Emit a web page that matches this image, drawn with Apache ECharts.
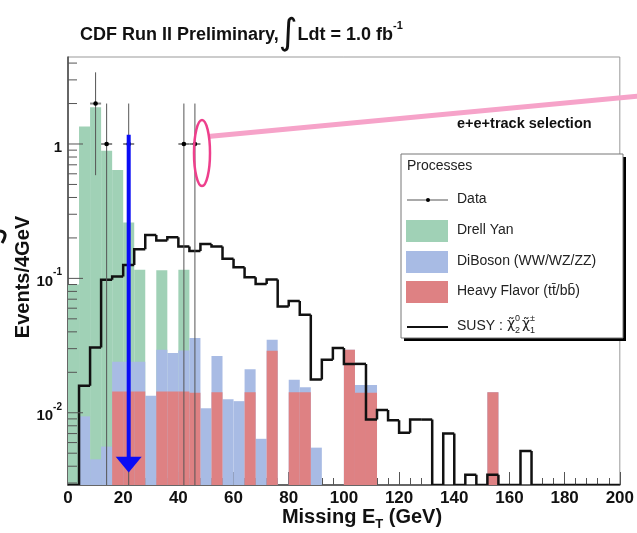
<!DOCTYPE html>
<html>
<head>
<meta charset="utf-8">
<script src="https://cdn.jsdelivr.net/npm/echarts@6/dist/echarts.min.js"></script>
<style>html,body{margin:0;padding:0;background:#fff}#c{width:637px;height:533px}</style>
</head>
<body>
<div id="c"></div>
<script>
// ---------- data ----------
// left edges of the 4 GeV bins of Missing E_T
const binLeftEdges = [0,4,8,12,16,20,24,28,32,36,40,44,48,52,56,60,64,68,72,76,80,84,88,92,96,
  100,104,108,112,116,120,124,128,132,136,140,144,148,152,156,160,164,168,172,176,180,184,188,192,196];
const binWidth = 4;
// stacked histogram: top of each layer (Drell Yan on top, DiBoson middle, Heavy Flavor bottom)
const drellYanStackTop = [0.09,1.35,1.88,0.89,0.64,0.26,0.116,0,0.115,0,0.116,0,0,0,0,0,0,0,0,0,0,0,0,0,0,
  0,0,0,0,0,0,0,0,0,0,0,0,0,0,0,0,0,0,0,0,0,0,0,0,0];
const diBosonStackTop = [0,0.0094,0.0045,0.0056,0.024,0.024,0.024,0.0134,0.0294,0.0278,0.029,0.036,0.0108,0.0265,0.0126,0.0122,0.0211,0.0064,0.0349,0,0.0176,0.0155,0.0055,0,0,
  0.0294,0.0161,0.0161,0,0,0,0,0,0,0,0,0,0,0.0142,0,0,0,0,0,0,0,0,0,0,0];
const heavyFlavor = [0,0,0,0,0.0144,0.0144,0.0144,0,0.0144,0.0144,0.0144,0.0141,0,0.0142,0,0,0.0142,0,0.0289,0,0.0142,0.0142,0,0,0,
  0.0294,0.0141,0.0141,0,0,0,0,0,0,0,0,0,0,0.0142,0,0,0,0,0,0,0,0,0,0,0];
const susySignal = [0,0.0159,0.0306,0.0977,0.1033,0.126,0.165,0.21,0.191,0.202,0.173,0.160,0.18,0.173,0.14,0.121,0.102,0.091,0.098,0.0618,0.068,0.0536,0.0177,0.0248,0.0303,
  0.0231,0.0231,0.0089,0.0105,0.0088,0.0071,0.0089,0.0089,0,0.0070,0,0.00345,0,0.00345,0,0,0.0052,0,0,0,0,0,0,0,0];
// observed data
const dataMet = [10,14,22,42,46];
const dataEvents = [2,1,1,1,1];
const dataErrLow = [1.414,1,1,1,1];
const dataErrHigh = [1.414,1,1,1,1];
// axes
const xTickValues = [0,20,40,60,80,100,120,140,160,180,200];
const yLabelValues = [0.01,0.1,1];
const yLabelTexts = ['{b|10}{s|-2}','{b|10}{s|-1}','{b|1}'];
const yMinorTickValues = [0.003,0.004,0.005,0.006,0.007,0.008,0.009,0.02,0.03,0.04,0.05,0.06,0.07,0.08,0.09,
  0.2,0.3,0.4,0.5,0.6,0.7,0.8,0.9,2,3,4];
// annotation arrow (GeV, events)
const arrowMet = [22];
const arrowTop = [1.17];
const arrowHeadBase = [0.0047];
const arrowTip = [0.0036];

// ---------- chart ----------
const yMin = 0.0029, yMax = 4.44;
const FONT = "'Liberation Sans', Arial, Helvetica, sans-serif";
const C_DY = '#a0d1b6', C_DB = '#a8bbe4', C_HF = '#de8183';

function histSeries(name, values, color) {
  return {
    type: 'custom', name: name, clip: true,
    data: values.map((v, i) => [binLeftEdges[i], v]),
    encode: { x: 0, y: 1 },
    renderItem: function (params, api) {
      const x0 = api.value(0), v = api.value(1);
      if (!(v > 0)) return null;
      const p0 = api.coord([x0, v]);
      const p1 = api.coord([x0 + binWidth, yMin]);
      return { type: 'rect', shape: { x: p0[0], y: p0[1], width: p1[0] - p0[0], height: p1[1] - p0[1] },
               style: { fill: color } };
    }
  };
}

const chart = echarts.init(document.getElementById('c'));
const option = {
  animation: false,
  backgroundColor: '#fff',
  grid: { left: 68, right: 16, top: 57, bottom: 48, show: true, borderColor: '#999', borderWidth: 1 },
  xAxis: {
    type: 'value', min: 0, max: 200, interval: 20,
    axisLine: { show: true, lineStyle: { color: '#444', width: 1.5 } },
    axisTick: { show: true, inside: true, length: 13, lineStyle: { color: '#555' } },
    minorTick: { show: true, splitNumber: 5, length: 7, lineStyle: { color: '#555' } },
    splitLine: { show: false },
    axisLabel: { margin: 5, color: '#111', fontSize: 17, fontWeight: 'bold', fontFamily: FONT,
      formatter: v => (xTickValues.indexOf(v) >= 0 ? String(v) : '') }
  },
  yAxis: {
    type: 'log', logBase: 10, min: yMin, max: yMax,
    axisLine: { show: true, lineStyle: { color: '#444', width: 1.5 } },
    axisTick: { show: false },
    splitLine: { show: false },
    axisLabel: {
      margin: 6, color: '#111', fontFamily: FONT,
      formatter: function (v) {
        for (let k = 0; k < yLabelValues.length; k++) {
          if (Math.abs(Math.log10(v) - Math.log10(yLabelValues[k])) < 1e-6) return yLabelTexts[k];
        }
        return '';
      },
      rich: {
        b: { fontSize: 15, fontWeight: 'bold', fontFamily: FONT, color: '#111', lineHeight: 22, verticalAlign: 'bottom' },
        s: { fontSize: 10, fontWeight: 'bold', fontFamily: FONT, color: '#111', verticalAlign: 'top', lineHeight: 10 }
      }
    }
  },
  series: [
    histSeries('Drell Yan', drellYanStackTop, C_DY),
    histSeries('DiBoson (WW/WZ/ZZ)', diBosonStackTop, C_DB),
    histSeries('Heavy Flavor', heavyFlavor, C_HF),
    { // y-axis ticks (log minor + major)
      type: 'custom', name: 'yticks', clip: false, silent: true, z: 5,
      data: yLabelValues.map(v => [0, v, 15]).concat(yMinorTickValues.map(v => [0, v, 9])),
      encode: { x: 0, y: 1 },
      renderItem: function (params, api) {
        const p = api.coord([0, api.value(1)]);
        return { type: 'line', shape: { x1: p[0], y1: p[1], x2: p[0] + api.value(2), y2: p[1] },
                 style: { stroke: '#555', lineWidth: 1 } };
      }
    },
    { // SUSY outline
      type: 'custom', name: 'SUSY', clip: true, z: 4,
      data: susySignal.map((v, i) => [binLeftEdges[i], v]),
      encode: { x: 0, y: 1 },
      renderItem: function (params, api) {
        const i = params.dataIndex;
        const x0 = binLeftEdges[i], x1 = x0 + binWidth;
        const v = susySignal[i] > 0 ? susySignal[i] : yMin;
        const pv = i > 0 ? (susySignal[i - 1] > 0 ? susySignal[i - 1] : yMin) : yMin;
        const pts = [api.coord([x0, pv]), api.coord([x0, v]), api.coord([x1, v])];
        if (i === susySignal.length - 1) pts.push(api.coord([x1, yMin]));
        return { type: 'polyline', shape: { points: pts },
                 style: { stroke: '#111', lineWidth: 2.5, fill: null, lineJoin: 'miter' } };
      }
    },
    { // observed data with error bars
      type: 'custom', name: 'Data', clip: true, z: 6,
      data: dataMet.map((x, i) => [x, dataEvents[i], dataErrLow[i], dataErrHigh[i]]),
      encode: { x: 0, y: 1 },
      renderItem: function (params, api) {
        const x = api.value(0), y = api.value(1), el = api.value(2), eh = api.value(3);
        const lo = Math.max(y - el, yMin);
        const p = api.coord([x, y]);
        const pt = api.coord([x, y + eh]);
        const pb = api.coord([x, lo]);
        const pl = api.coord([x - binWidth / 2, y]);
        const pr = api.coord([x + binWidth / 2, y]);
        return { type: 'group', children: [
          { type: 'line', shape: { x1: p[0], y1: pt[1], x2: p[0], y2: pb[1] }, style: { stroke: '#555', lineWidth: 1 } },
          { type: 'line', shape: { x1: pl[0], y1: p[1], x2: pr[0], y2: p[1] }, style: { stroke: '#888', lineWidth: 2 } },
          { type: 'circle', shape: { cx: p[0], cy: p[1], r: 2.3 }, style: { fill: '#000' } }
        ] };
      }
    },
    { // blue annotation arrow
      type: 'custom', name: 'arrow', clip: false, z: 10, silent: true,
      data: arrowMet.map((x, i) => [x, arrowTop[i], arrowHeadBase[i], arrowTip[i]]),
      encode: { x: 0, y: 1 },
      renderItem: function (params, api) {
        const x = api.value(0);
        const pTop = api.coord([x, api.value(1)]);
        const pBase = api.coord([x, api.value(2)]);
        const pTip = api.coord([x, api.value(3)]);
        return { type: 'group', children: [
          { type: 'rect', shape: { x: pTop[0] - 2, y: pTop[1], width: 4, height: pBase[1] - pTop[1] + 1 }, style: { fill: '#0a0cf5' } },
          { type: 'polygon', shape: { points: [[pTop[0] - 13, pBase[1]], [pTop[0] + 13, pBase[1]], [pTop[0], pTip[1]]] }, style: { fill: '#0a0cf5' } }
        ] };
      }
    }
  ],
  graphic: [
    { type: 'text', left: 80, top: 17, z: 20,
      style: { text: '{a|CDF Run II Preliminary,}{i|∫}{a|Ldt = 1.0 fb}{s|-1}',
        rich: {
          a: { fontSize: 18, fontWeight: 'bold', fontFamily: FONT, fill: '#111', verticalAlign: 'middle', lineHeight: 30 },
          i: { fontSize: 36, fontFamily: "'DejaVu Sans', sans-serif", fill: '#111', verticalAlign: 'middle', lineHeight: 30, padding: [0, 0, 0, 0] },
          s: { fontSize: 11, fontWeight: 'bold', fontFamily: FONT, fill: '#111', verticalAlign: 'top', lineHeight: 11 }
        } } },
    { type: 'text', x: 362, y: 519, z: 20,
      style: { text: '{a|Missing E}{t|T}{a| (GeV)}', align: 'center', verticalAlign: 'middle',
        rich: {
          a: { fontSize: 20, fontWeight: 'bold', fontFamily: FONT, fill: '#111', lineHeight: 24, verticalAlign: 'top' },
          t: { fontSize: 13, fontWeight: 'bold', fontFamily: FONT, fill: '#111', lineHeight: 24, verticalAlign: 'bottom', padding: [9, 0, 0, 0] }
        } } },
    { type: 'text', x: 23, y: 277, rotation: Math.PI / 2, z: 20,
      style: { text: 'Events/4GeV', fontSize: 20, fontWeight: 'bold', fontFamily: FONT, fill: '#111', align: 'center', verticalAlign: 'middle' } },
    { type: 'text', left: 457, top: 116, z: 20,
      style: { text: 'e+e+track selection', fontSize: 14.5, fontWeight: 'bold', fontFamily: FONT, fill: '#111' } },
    // pink annotation
    { type: 'line', z: 21, shape: { x1: 208, y1: 136.5, x2: 640, y2: 96 }, style: { stroke: '#f6a3c9', lineWidth: 5 } },
    { type: 'ellipse', z: 22, shape: { cx: 202, cy: 153, rx: 8, ry: 33 }, style: { stroke: '#ee3f8c', lineWidth: 2.5, fill: null } },
    // left-edge hook
    { type: 'bezierCurve', z: 20, shape: { x1: 0, y1: 231, cpx1: 9, cpy1: 232, x2: 2, y2: 243 }, style: { stroke: '#111', lineWidth: 3, fill: null } },
    // legend box
    { type: 'rect', z: 30, shape: { x: 404, y: 157, width: 222, height: 184 }, style: { fill: '#000' } },
    { type: 'rect', z: 31, shape: { x: 401, y: 154, width: 222, height: 184 }, style: { fill: '#fff', stroke: '#777', lineWidth: 1 } },
    { type: 'text', z: 32, left: 407, top: 159, style: { text: 'Processes', fontSize: 14, fontFamily: FONT, fill: '#222' } },
    { type: 'line', z: 32, shape: { x1: 407, y1: 200, x2: 448, y2: 200 }, style: { stroke: '#555', lineWidth: 1 } },
    { type: 'circle', z: 33, shape: { cx: 428, cy: 200, r: 2 }, style: { fill: '#000' } },
    { type: 'text', z: 32, left: 457, top: 192, style: { text: 'Data', fontSize: 14, fontFamily: FONT, fill: '#222' } },
    { type: 'rect', z: 32, shape: { x: 406, y: 220, width: 42, height: 22 }, style: { fill: C_DY } },
    { type: 'text', z: 32, left: 457, top: 223, style: { text: 'Drell Yan', fontSize: 14, fontFamily: FONT, fill: '#222' } },
    { type: 'rect', z: 32, shape: { x: 406, y: 251, width: 42, height: 22 }, style: { fill: C_DB } },
    { type: 'text', z: 32, left: 457, top: 254, style: { text: 'DiBoson (WW/WZ/ZZ)', fontSize: 14, fontFamily: FONT, fill: '#222' } },
    { type: 'rect', z: 32, shape: { x: 406, y: 281, width: 42, height: 22 }, style: { fill: C_HF } },
    { type: 'text', z: 32, left: 457, top: 284, style: { text: 'Heavy Flavor (tt\u0304/bb\u0304)', fontSize: 14, fontFamily: FONT, fill: '#222' } },
    { type: 'line', z: 32, shape: { x1: 407, y1: 327, x2: 448, y2: 327 }, style: { stroke: '#111', lineWidth: 2 } },
    { type: 'text', z: 32, left: 457, top: 319, style: { text: 'SUSY :', fontSize: 14, fontFamily: FONT, fill: '#222' } },
    { type: 'text', z: 32, left: 507, top: 317, style: { text: 'χ\u0303', fontSize: 14, fontFamily: "'DejaVu Sans', sans-serif", fill: '#222' } },
    { type: 'text', z: 32, left: 515, top: 314, style: { text: '0', fontSize: 9, fontFamily: FONT, fill: '#222' } },
    { type: 'text', z: 32, left: 515, top: 326, style: { text: '2', fontSize: 9, fontFamily: FONT, fill: '#222' } },
    { type: 'text', z: 32, left: 522, top: 317, style: { text: 'χ\u0303', fontSize: 14, fontFamily: "'DejaVu Sans', sans-serif", fill: '#222' } },
    { type: 'text', z: 32, left: 530, top: 314, style: { text: '±', fontSize: 9, fontFamily: FONT, fill: '#222' } },
    { type: 'text', z: 32, left: 530, top: 326, style: { text: '1', fontSize: 9, fontFamily: FONT, fill: '#222' } }
  ]
};
chart.setOption(option);
</script>
</body>
</html>
